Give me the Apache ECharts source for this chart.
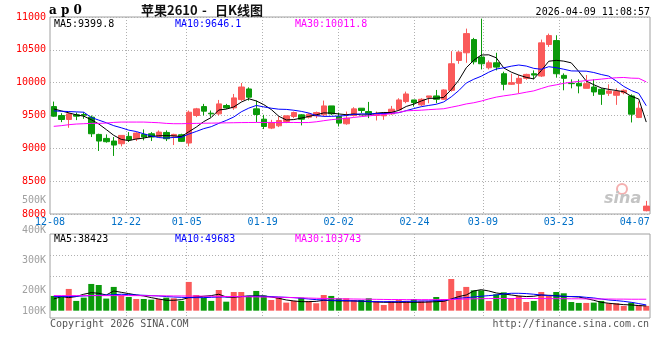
<!DOCTYPE html>
<html><head><meta charset="utf-8">
<script src="https://cdn.jsdelivr.net/npm/echarts@6/dist/echarts.min.js"></script>
<style>html,body{margin:0;padding:0;background:#fff}#c{width:660px;height:360px}</style>
</head><body><div id="c"></div>
<script>
const dates=['12-08','12-09','12-10','12-11','12-12','12-15','12-16','12-17','12-18','12-19','12-22','12-23','12-24','12-25','12-26','12-29','12-30','12-31','01-05','01-06','01-07','01-08','01-09','01-12','01-13','01-14','01-15','01-16','01-19','01-20','01-21','01-22','01-23','01-26','01-27','01-28','01-29','01-30','02-02','02-03','02-04','02-05','02-06','02-09','02-10','02-11','02-12','02-13','02-24','02-25','02-26','02-27','03-02','03-03','03-04','03-05','03-06','03-09','03-10','03-11','03-12','03-13','03-16','03-17','03-18','03-19','03-20','03-23','03-24','03-25','03-26','03-27','03-30','03-31','04-01','04-02','04-03','04-07','04-08','04-09'];
const tickLabels=['12-08','12-22','01-05','01-19','02-02','02-24','03-09','03-23','04-07'];
const gridDates=['12-22','01-05','01-19','02-02','02-24','03-09','03-23'];
const opens=[9636,9500,9439,9510,9515,9475,9212,9151,9111,9070,9182,9146,9212,9222,9182,9242,9187,9207,9081,9500,9636,9535,9525,9652,9616,9742,9904,9601,9444,9308,9343,9409,9485,9510,9475,9495,9510,9646,9485,9374,9500,9611,9560,9500,9495,9525,9586,9712,9737,9662,9778,9798,9747,9884,10338,10455,10656,10389,10227,10303,10136,9975,9990,10066,10136,10101,10581,10641,10111,9990,9990,9914,9934,9899,9838,9808,9848,9798,9470,8050];
const closes=[9490,9439,9525,9490,9505,9222,9111,9101,9050,9197,9131,9232,9172,9172,9247,9146,9212,9106,9550,9601,9566,9525,9677,9616,9768,9934,9778,9515,9333,9394,9424,9495,9545,9444,9520,9545,9646,9525,9384,9460,9601,9576,9525,9520,9510,9596,9737,9828,9697,9747,9798,9747,9889,10288,10465,10747,10318,10288,10303,10237,9975,10000,10066,10126,10116,10606,10717,10136,10066,9985,9950,9985,9859,9823,9874,9864,9884,9520,9611,8120];
const lows=[9480,9399,9313,9430,9450,9172,8960,9086,8884,9030,9096,9111,9121,9111,9172,9111,9050,9096,9030,9475,9500,9475,9500,9601,9586,9722,9727,9399,9293,9293,9323,9384,9460,9349,9455,9460,9485,9510,9333,9359,9485,9535,9460,9424,9434,9510,9576,9687,9636,9646,9687,9687,9737,9864,10288,10303,10278,10202,10202,10187,9884,9965,9838,10045,10050,10086,10545,10076,9884,9914,9838,9914,9798,9662,9798,9662,9823,9394,9460,8040];
const highs=[9712,9535,9550,9545,9550,9500,9222,9212,9172,9197,9247,9247,9288,9247,9273,9273,9222,9222,9576,9616,9677,9576,9737,9677,9828,9995,9929,9727,9510,9434,9485,9495,9560,9520,9535,9560,9727,9646,9545,9560,9626,9611,9707,9560,9545,9646,9763,9864,9737,9763,9798,9889,9899,10480,10480,10823,10682,10975,10338,10455,10167,10136,10116,10136,10187,10656,10747,10722,10141,10050,10050,10116,10050,9914,9975,9914,9899,9823,9712,8200];
const ma5=[9600,9570,9540,9510,9490,9436,9371,9286,9198,9136,9118,9142,9156,9181,9191,9194,9190,9177,9252,9323,9407,9470,9584,9597,9630,9704,9755,9722,9666,9591,9489,9432,9438,9460,9486,9510,9540,9536,9524,9512,9523,9509,9509,9536,9546,9545,9578,9638,9674,9721,9761,9763,9776,9894,10037,10227,10341,10421,10424,10379,10224,10161,10116,10081,10057,10183,10326,10340,10328,10302,10171,10024,9969,9920,9898,9881,9861,9793,9751,9400];
const ma10=[9570,9565,9560,9555,9550,9470,9430,9390,9345,9313,9277,9256,9221,9189,9164,9156,9166,9167,9217,9257,9300,9330,9380,9425,9477,9556,9612,9653,9631,9611,9596,9593,9580,9563,9538,9499,9486,9487,9492,9499,9517,9525,9523,9530,9529,9534,9543,9574,9605,9634,9653,9671,9707,9784,9879,9994,10052,10098,10159,10208,10226,10251,10269,10253,10218,10204,10243,10228,10205,10179,10177,10175,10155,10124,10100,10026,9943,9881,9836,9649];
const ma30=[9335,9345,9360,9370,9375,9380,9380,9385,9395,9400,9400,9400,9400,9395,9390,9380,9375,9375,9378,9380,9382,9384,9386,9388,9390,9392,9393,9394,9394,9394,9391,9393,9394,9392,9393,9404,9421,9436,9447,9455,9471,9483,9494,9506,9515,9530,9547,9571,9576,9581,9589,9596,9603,9626,9649,9676,9694,9720,9752,9780,9799,9815,9833,9855,9875,9911,9946,9967,9990,10007,10019,10032,10043,10054,10066,10075,10079,10069,10066,10012];
const volumesK=[139,139,205,92,123,252,242,114,224,148,129,110,110,104,110,123,117,92,271,148,123,92,195,85,176,176,139,186,142,101,123,76,92,123,92,70,148,139,117,117,101,101,117,92,54,92,101,92,110,92,92,129,110,299,186,224,192,192,92,155,173,117,139,82,92,176,139,176,164,82,73,73,76,92,70,70,45,76,54,45];
const volMa5K=[110,133,123,133,155,170,164,148,186,173,161,148,139,123,110,98,98,104,123,129,136,142,155,129,126,133,139,139,139,129,117,101,92,85,85,88,98,95,92,92,92,88,85,82,79,79,79,79,79,79,82,85,88,110,133,148,186,198,186,167,158,148,139,133,136,148,145,142,133,133,129,114,98,79,70,63,57,54,48,45];
const volMa10K=[133,133,133,136,139,142,145,148,151,155,151,148,145,142,139,133,129,126,123,123,123,126,129,129,133,133,136,136,136,133,129,126,123,117,110,104,101,98,98,95,92,92,88,85,85,85,85,88,88,92,92,95,98,107,117,123,129,136,142,148,158,164,164,161,155,148,142,139,136,133,133,126,120,110,101,95,88,79,67,54];
const volMa30K=[142,142,142,142,142,142,142,142,142,142,142,142,141,141,140,140,139,139,138,138,137,136,135,134,133,132,131,130,129,128,127,125,123,121,119,117,115,113,112,111,110,109,108,107,106,105,105,104,104,104,104,104,104,106,108,110,112,113,114,115,115,115,115,115,115,114,114,113,113,112,112,111,111,110,110,109,109,108,108,108];
const volTicks=[100000,200000,300000,400000,500000];

const RED='#fa5a5a', GREEN='#0a9a0a';
const mono='"DejaVu Sans Mono", "Liberation Mono", monospace';
const dotted={color:'#b0b0b0',type:[1,2],width:1};
const chart=echarts.init(document.getElementById('c'),null,{renderer:'canvas'});
const candles=dates.map((d,i)=>[opens[i],closes[i],lows[i],highs[i]]);
const vols=volumesK.map((v,i)=>({value:v*1000,itemStyle:{color:closes[i]>=opens[i]?RED:GREEN}}));
const k=a=>a.map(v=>v*1000);
const isGrid=(i,v)=>gridDates.indexOf(v)>=0;
const isTick=(i,v)=>tickLabels.indexOf(v)>=0;
const txt=(x,y,t,fill,font,align)=>({type:'text',x:x,y:y,silent:true,style:{text:t,fill:fill,font:font,textAlign:align||'left',textVerticalAlign:'middle'}});
const f10='10px '+mono;
const fT='bold 13px "Noto Sans CJK SC", sans-serif';
const option={
  animation:false,
  backgroundColor:'#fff',
  grid:[
    {left:50,top:17,width:600,height:197,show:true,borderColor:'#a0a0a0',borderWidth:1},
    {left:50,top:234,width:600,height:84,show:true,borderColor:'#a0a0a0',borderWidth:1},
    {left:50,top:200,width:600,height:150,show:false}
  ],
  xAxis:[
    {gridIndex:0,type:'category',data:dates,boundaryGap:true,show:false},
    {gridIndex:0,type:'category',data:dates,boundaryGap:false,position:'bottom',
      axisLine:{show:false},axisTick:{show:false},
      axisLabel:{interval:isTick,color:'#0070c8',fontFamily:mono,fontSize:10,margin:3},
      splitLine:{show:true,interval:isGrid,lineStyle:dotted}},
    {gridIndex:1,type:'category',data:dates,boundaryGap:true,show:false},
    {gridIndex:1,type:'category',data:dates,boundaryGap:false,
      axisLine:{show:false},axisTick:{show:false},axisLabel:{show:false},
      splitLine:{show:true,interval:isGrid,lineStyle:dotted}},
    {gridIndex:2,type:'value',show:false}
  ],
  yAxis:[
    {gridIndex:0,type:'value',min:8000,max:11000,interval:500,
      axisLine:{show:false},axisTick:{show:false},
      axisLabel:{color:'#ff0000',fontFamily:mono,fontSize:10,margin:4,formatter:v=>String(v)},
      splitLine:{show:true,lineStyle:dotted}},
    {gridIndex:1,type:'value',min:-69000,max:723000,show:false,splitLine:{show:false}},
    {gridIndex:2,type:'value',min:0,max:500000,interval:100000,
      axisLine:{show:false},axisTick:{show:false},splitLine:{show:false},
      axisLabel:{color:'#a0a0a0',fontFamily:mono,fontSize:10,margin:4,
        formatter:v=>v===0?'':(v===volTicks[0]?'{u|'+(v/1000)+'K}':(v/1000)+'K'),
        rich:{u:{color:'#a0a0a0',fontFamily:mono,fontSize:10,padding:[0,0,18,0]}}}}
  ],
  series:[
    {type:'candlestick',xAxisIndex:0,yAxisIndex:0,data:candles,barWidth:6,
      itemStyle:{color:RED,color0:GREEN,borderColor:RED,borderColor0:GREEN,borderWidth:1}},
    {type:'line',xAxisIndex:0,yAxisIndex:0,data:ma5,showSymbol:false,lineStyle:{color:'#000',width:1}},
    {type:'line',xAxisIndex:0,yAxisIndex:0,data:ma10,showSymbol:false,lineStyle:{color:'#0000ff',width:1}},
    {type:'line',xAxisIndex:0,yAxisIndex:0,data:ma30,showSymbol:false,lineStyle:{color:'#ff00ff',width:1}},
    {type:'bar',xAxisIndex:2,yAxisIndex:1,data:vols,barWidth:6,
      markLine:{silent:true,symbol:'none',label:{show:false},lineStyle:dotted,
        data:[{yAxis:525000},{yAxis:327000}]}},
    {type:'line',xAxisIndex:2,yAxisIndex:1,data:k(volMa5K),showSymbol:false,lineStyle:{color:'#000',width:1}},
    {type:'line',xAxisIndex:2,yAxisIndex:1,data:k(volMa10K),showSymbol:false,lineStyle:{color:'#0000ff',width:1}},
    {type:'line',xAxisIndex:2,yAxisIndex:1,data:k(volMa30K),showSymbol:false,lineStyle:{color:'#ff00ff',width:1}}
  ],
  graphic:[
    txt(49,11,'a p 0','#000','bold 12px "DejaVu Serif", serif'),
    txt(141,10,'苹果2610','#111',fT),
    txt(202,10,'-','#111',fT),
    txt(215,10,'日K线图','#111',fT),
    txt(650,12,'2026-04-09 11:08:57','#000',f10,'right'),
    txt(54,24,'MA5:9399.8','#000',f10),
    txt(175,24,'MA10:9646.1','#0000ff',f10),
    txt(295,24,'MA30:10011.8','#ff00ff',f10),
    txt(54,239,'MA5:38423','#000',f10),
    txt(175,239,'MA10:49683','#0000ff',f10),
    txt(295,239,'MA30:103743','#ff00ff',f10),
    txt(50,324,'Copyright 2026 SINA.COM','#555',f10),
    txt(649,324,'http://finance.sina.com.cn','#555',f10,'right'),
    {type:'circle',silent:true,shape:{cx:622,cy:189,r:5},style:{fill:'none',stroke:'#f4b0b0',lineWidth:2}},
    txt(604,199,'sina','#c4c4c4','italic bold 16px "DejaVu Sans", sans-serif')
  ]
};
chart.setOption(option);
</script></body></html>
